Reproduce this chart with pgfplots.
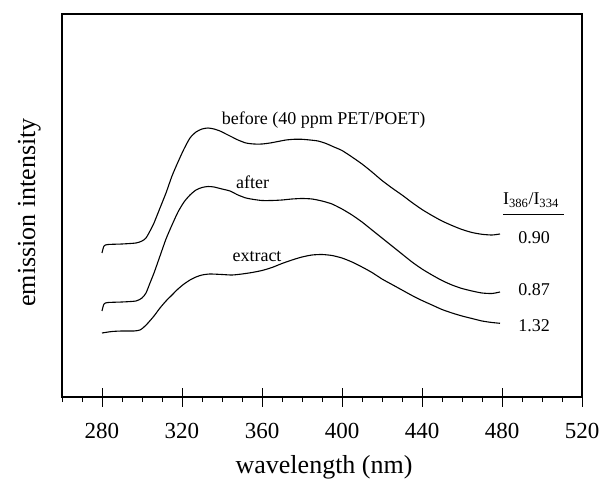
\documentclass[border=0pt]{standalone}
\usepackage{pgfplots}
\pgfplotsset{compat=1.18}
\usepackage{fontspec}
\setmainfont{Liberation Serif}

\begin{document}
\begin{tikzpicture}
\useasboundingbox (-62pt,-85pt) rectangle (541pt,397pt);
\begin{axis}[
  width=520pt, height=383pt, scale only axis,
  xmin=260, xmax=520, ymin=0, ymax=383,
  xtick={280,320,...,520}, ytick=\empty,
  xtick pos=bottom,
  tick align=center, major tick length=19pt,
  extra x ticks={260,270,290,300,310,330,340,350,370,380,390,410,420,430,450,460,470,490,500,510},
  extra x tick labels={},
  extra x tick style={tick align=outside, major tick length=5pt},
  every tick/.style={black, line width=0.8pt},
  axis line style={line width=1.2pt},
  /pgf/number format/assume math mode=true,
  tick label style={font=\fontsize{23}{27}\selectfont},
  xticklabel style={anchor=base, yshift=-32pt},
  xlabel={wavelength (nm)},
  ylabel={emission intensity},
  every axis x label/.style={at={(axis description cs:0.504,-0.201)}, anchor=base, font=\fontsize{26}{30}\selectfont},
  every axis y label/.style={at={(axis description cs:-0.0519,0.482)}, rotate=90, anchor=base, font=\fontsize{26}{30}\selectfont},
  clip=false,
]
% before
\addplot[black, line width=1.1pt, smooth, tension=0.4] coordinates {
(280,144)(281,151)(283,152.5)(290,153)(297,154)(300,156)(302,159)(304,166)(306,174)(309,189)(312,204)(315,221)(318,235)(321,248)(324,259)(327,265)(330,268)(333,269)(336,268)(339,266)(342,263)(345,260)(348,257)(352,254)(356,253)(360,253)(364,254)(368,255.5)(372,257)(376,257.7)(380,257.7)(384,257)(388,256)(392,253.5)(396,250)(400,246.5)(405,240)(410,233)(415,225)(420,216.5)(425,209)(430,202)(435,194.5)(440,187.5)(445,181.5)(450,176)(455,171.5)(460,167.5)(465,164.5)(470,162.7)(475,162)(479,163)
};
% after
\addplot[black, line width=1.1pt, smooth, tension=0.4] coordinates {
(280,86)(281,93)(283,94.5)(290,95)(297,96)(300,99)(302,104)(304,114)(306,124)(309,141)(312,158)(315,172)(318,185)(321,195)(324,202)(327,207)(330,209.5)(333,210.5)(336,210)(340,208)(344,206)(348,202)(352,199)(356,197.5)(360,196.5)(365,196.5)(370,197)(375,198)(380,198.5)(385,198)(390,196)(395,193)(400,188)(405,182)(410,175)(415,167)(420,159)(425,151)(430,143)(435,135)(440,128)(445,122)(450,116.5)(455,112)(460,108.5)(465,106)(470,104)(475,103.5)(479,105)
};
% extract
\addplot[black, line width=1.1pt, smooth, tension=0.4] coordinates {
(280,64)(285,65.5)(290,66)(296,66)(299,67)(301,70)(303,74)(306,81)(309,89)(312,96)(315,102)(318,108)(321,113)(324,117)(327,120)(330,122)(334,123)(340,122.5)(345,122)(350,123)(355,124.5)(360,126.5)(365,129.5)(370,133.5)(375,137)(380,140)(385,142)(390,142.5)(395,141.5)(400,139)(405,135)(410,130)(415,124.5)(420,118)(425,112.5)(430,107)(435,101.5)(440,96.5)(445,92)(450,87.5)(455,84)(460,81)(465,78.5)(470,76)(475,74.5)(479,73.7)
};
\node[font=\fontsize{18}{21}\selectfont] at (axis cs:390.8,277) {before (40 ppm PET/POET)};
\node[font=\fontsize{18}{21}\selectfont] at (axis cs:355.3,214.5) {after};
\node[font=\fontsize{18}{21}\selectfont] at (axis cs:357.5,140) {extract};
\node[font=\fontsize{18}{21}\selectfont] at (axis cs:494.5,197) {I\textsubscript{386}/I\textsubscript{334}};
\draw[line width=0.8pt] (axis cs:480.5,183) -- (axis cs:511,183);
\node[font=\fontsize{18}{21}\selectfont] at (axis cs:496,159) {0.90};
\node[font=\fontsize{18}{21}\selectfont] at (axis cs:496,107) {0.87};
\node[font=\fontsize{18}{21}\selectfont] at (axis cs:496,71) {1.32};
\end{axis}
\end{tikzpicture}
\end{document}
